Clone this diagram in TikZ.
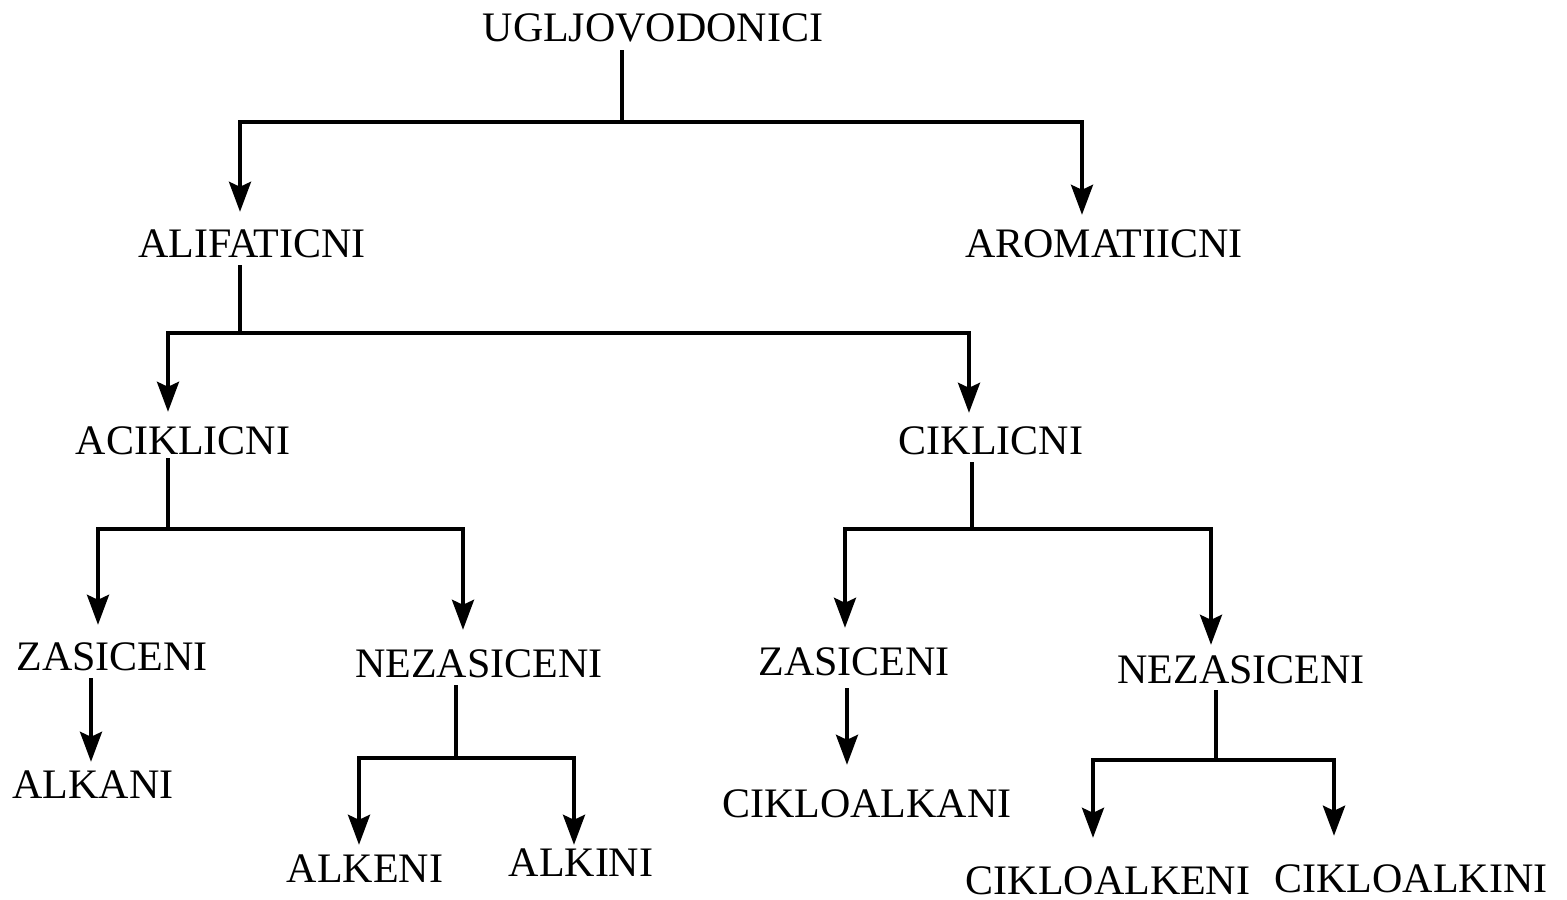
\documentclass[tikz,border=0pt]{standalone}
\usepackage{fontspec}
\setmainfont{Liberation Serif}
\usetikzlibrary{arrows.meta}
\tikzset{
  lbl/.style={font=\fontsize{42}{42}\selectfont, inner sep=0pt, text height=28pt, text depth=0pt, anchor=center},
  stem/.style={line width=3.5pt},
  arr/.style={line width=3.5pt, -{Stealth[length=30pt,width=22pt,inset=5pt]}},
}
\begin{document}
\begin{tikzpicture}[x=1pt,y=-1pt]
  \useasboundingbox (0,0) rectangle (1567,900);

  % labels
  \node[lbl] (ugl)    at (653,27)  {UGLJOVODONICI};
  \node[lbl] (alif)   at (252,243) {ALIFATICNI};
  \node[lbl] (arom)   at (1104,243) {AROMATIICNI};
  \node[lbl] (acik)   at (183,440) {ACIKLICNI};
  \node[lbl] (cik)    at (991,440) {CIKLICNI};
  \node[lbl] (zasA)   at (112,656) {ZASICENI};
  \node[lbl] (nezA)   at (479,663) {NEZASICENI};
  \node[lbl] (alkani) at (93,784)  {ALKANI};
  \node[lbl] (alkeni) at (365,868) {ALKENI};
  \node[lbl] (alkini) at (581,862) {ALKINI};
  \node[lbl] (zasB)   at (854,661) {ZASICENI};
  \node[lbl] (nezB)   at (1241,669) {NEZASICENI};
  \node[lbl] (ckan)   at (867,803) {CIKLOALKANI};
  \node[lbl] (cken)   at (1108,880) {CIKLOALKENI};
  \node[lbl] (ckin)   at (1411,878) {CIKLOALKINI};

  % branch points
  \coordinate (j1) at (622,122);
  \coordinate (j2) at (240,333);
  \coordinate (j3) at (168,529);
  \coordinate (j4) at (972,529);
  \coordinate (j5) at (456,758);
  \coordinate (j6) at (1216,760);

  % UGLJOVODONICI
  \draw[stem, shorten >=9pt] (j1) -- (j1 |- ugl.south);
  \draw[arr] (j1) -| ([xshift=-12pt,yshift=17pt]alif.north);
  \draw[arr] (j1) -| ([xshift=-22pt,yshift=14pt]arom.north);

  % ALIFATICNI
  \draw[stem, shorten >=8pt] (j2) -- (j2 |- alif.south);
  \draw[arr] (j2) -| ([xshift=-15pt,yshift=14pt]acik.north);
  \draw[arr] (j2) -| ([xshift=-22pt,yshift=13pt]cik.north);

  % ACIKLICNI
  \draw[stem, line width=4pt, shorten >=4pt] (j3) -- (j3 |- acik.south);
  \draw[arr] (j3) -| ([xshift=-14pt,yshift=17pt]zasA.north);
  \draw[arr] (j3) -| ([xshift=-16pt,yshift=19pt]nezA.north);
  \draw[arr] ([xshift=-21pt,yshift=-8pt]zasA.south) -- ([xshift=-2pt,yshift=8pt]alkani.north);

  % NEZASICENI (acyclic)
  \draw[stem, line width=4.5pt, shorten >=8pt] (j5) -- (j5 |- nezA.south);
  \draw[arr] (j5) -| ([xshift=-6pt,yshift=9pt]alkeni.north);
  \draw[arr] (j5) -| ([xshift=-7pt,yshift=3pt]alkini.north);

  % CIKLICNI
  \draw[stem, line width=4.5pt, shorten >=8pt] (j4) -- (j4 |- cik.south);
  \draw[arr] (j4) -| ([xshift=-9pt,yshift=19pt]zasB.north);
  \draw[arr] (j4) -| ([xshift=-30pt,yshift=10pt]nezB.north);
  \draw[arr] ([xshift=-7pt,yshift=-13pt]zasB.south) -- ([xshift=-20pt,yshift=24pt]ckan.north);

  % NEZASICENI (cyclic)
  \draw[stem, shorten >=7pt] (j6) -- (j6 |- nezB.south);
  \draw[arr] (j6) -| ([xshift=-15pt,yshift=28pt]cken.north);
  \draw[arr, line width=4.5pt] (j6) -| ([xshift=-77pt,yshift=28pt]ckin.north);
\end{tikzpicture}
\end{document}
